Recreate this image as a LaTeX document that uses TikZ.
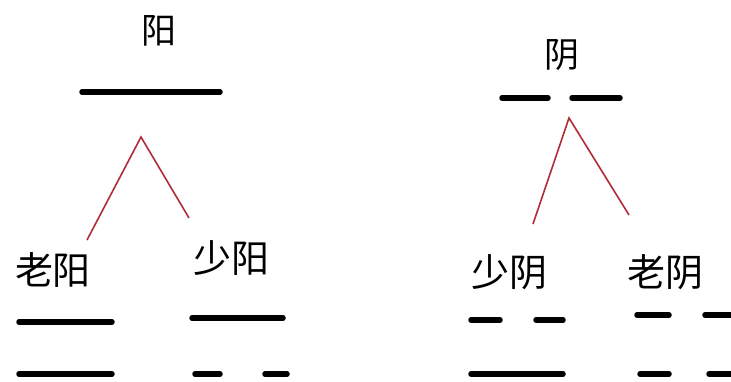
\documentclass[tikz,border=0pt]{standalone}
\usepackage{fontspec}
\newfontfamily\cjk{Noto Sans CJK SC}
\begin{document}
\begin{tikzpicture}[x=1pt,y=-1pt,
  yao/.style={line width=5.5pt, line cap=round, black},
  branch/.style={line width=1.6pt, draw={rgb,255:red,175;green,45;blue,55}},
  title/.style={font=\cjk\fontsize{35}{37}\selectfont, inner sep=0pt},
  label/.style={font=\cjk\fontsize{38}{40}\selectfont, inner sep=0pt}]
\useasboundingbox (0,0) rectangle (731,382);
\fill[white] (0,0) rectangle (731,382);
% titles
\node[title] (yang) at (159,31) {阳};
\node[title] (yin) at (562,55) {阴};
% labels
\node[label] (laoyang) at (53,270) {老阳};
\node[label] (shaoyang) at (231,258) {少阳};
\node[label] (shaoyin) at (509,272) {少阴};
\node[label] (laoyin) at (665,272) {老阴};
% top lines
\draw[yao] (82,92) -- (220,92);
\draw[yao] (502,98) -- (548,98);
\draw[yao] (572,98) -- (620,98);
% lao yang
\draw[yao] (19,322) -- (112,322);
\draw[yao] (19,374) -- (112,374);
% shao yang
\draw[yao] (192,318) -- (283,318);
\draw[yao] (195,374) -- (220,374);
\draw[yao] (265,374) -- (287,374);
% shao yin
\draw[yao] (471,320) -- (500,320);
\draw[yao] (536,320) -- (563,320);
\draw[yao] (471,374) -- (563,374);
% lao yin
\draw[yao] (637,315) -- (669,315);
\draw[yao] (705,315) -- (733,315);
\draw[yao] (640,374) -- (669,374);
\draw[yao] (709,374) -- (733,374);
% branches
\coordinate (yangApex) at (141,137);
\coordinate (yangL) at (87,240);
\coordinate (yangR) at (189,218);
\coordinate (yinApex) at (569,118);
\coordinate (yinL) at (533,224);
\coordinate (yinR) at (629,215);
\draw[branch] (yangL) -- (yangApex) -- (yangR);
\draw[branch] (yinL) -- (yinApex) -- (yinR);
\end{tikzpicture}
\end{document}
